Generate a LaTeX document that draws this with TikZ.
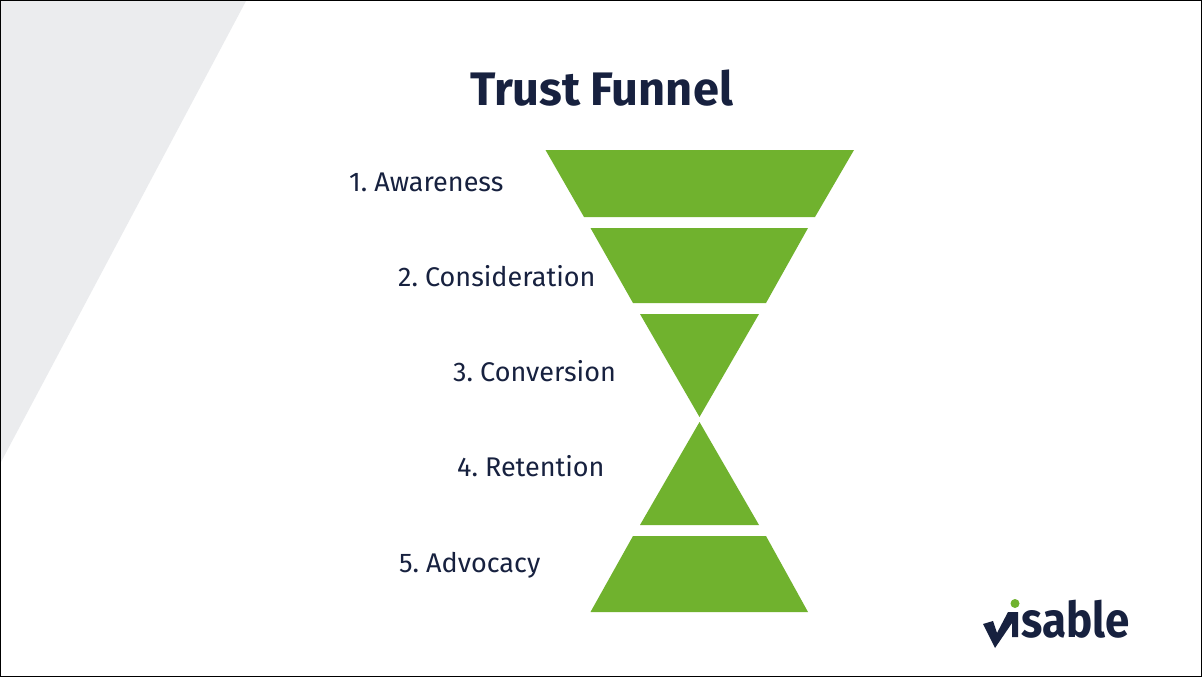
\documentclass[tikz,border=0pt]{standalone}
\usepackage{fontspec}
\setmainfont[WordSpace=0.65]{Fira Sans}
\definecolor{navy}{HTML}{17213F}
\definecolor{fgreen}{HTML}{70B22E}
\definecolor{pale}{HTML}{EBECEE}
\tikzset{
  seg/.style={fill=fgreen,draw=none},
  lab/.style={text=navy,font=\fontsize{27}{32}\selectfont,anchor=base west,inner sep=0pt},
}
\begin{document}
\begin{tikzpicture}[x=1pt,y=-1pt]
\useasboundingbox (0,0) rectangle (1202,677);
\fill[white] (0,0) rectangle (1202,677);
\fill[pale] (1,1) -- (246,1) -- (1,462) -- cycle;
\node[text=navy,font=\fontsize{47}{56}\selectfont\bfseries,anchor=base,inner sep=0pt] (title) at (601.5,105) {Trust\hspace{3pt} Funnel};
\fill[seg] (545.5,150) -- (854,150) -- (815,217) -- (584,217) -- cycle;
\fill[seg] (590.5,228) -- (808,228) -- (766,303) -- (633,303) -- cycle;
\fill[seg] (640,314) -- (759,314) -- (699.5,417) -- cycle;
\fill[seg] (699.5,422) -- (759,525) -- (640,525) -- cycle;
\fill[seg] (633,536) -- (766,536) -- (808,612) -- (590.5,612) -- cycle;
\node[lab] (l1) at (349,191.5) {1. Awareness};
\node[lab] (l2) at (398,286.5) {2. Consideration};
\node[lab] (l3) at (453,381.5) {3. Conversion};
\node[lab] (l4) at (457,476.5) {4. Retention};
\node[lab] (l5) at (399,572.5) {5. Advocacy};
% logo
\fill[navy] (983,624) -- (993,621) -- (997,633) -- (1008,612) -- (1018,612) -- (1018,637) -- (1012,637) -- (1012,623) -- (995,648) -- cycle;
\fill[fgreen] (1015,603.5) circle (4.5);
\node[text=navy,font=\fontsize{44}{50}\selectfont\bfseries,anchor=base west,inner sep=0pt] (logo) at (1021,637) {\scalebox{1}[1.12]{sable}};
\draw[black,line width=1.4pt] (0.7,0.7) rectangle (1201.3,676.3);
\end{tikzpicture}
\end{document}
